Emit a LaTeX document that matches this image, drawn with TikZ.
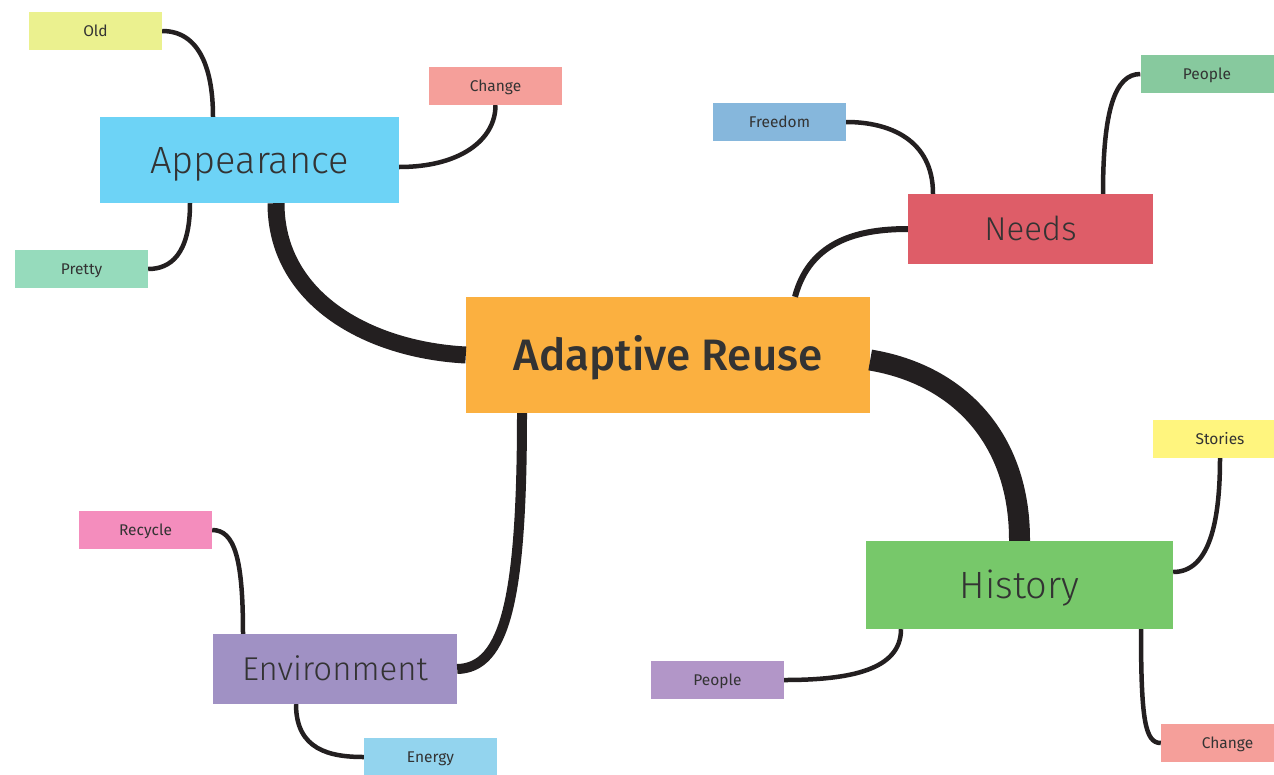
\documentclass[tikz,border=0pt]{standalone}
\usepackage{fontspec}
\setmainfont{Fira Sans}
\newfontfamily\lightfont{Fira Sans Light}
\newfontfamily\medfont{Fira Sans Medium}
\usetikzlibrary{positioning}

\definecolor{ink}{HTML}{231F20}
\definecolor{txt}{HTML}{333333}
\definecolor{cReuse}{HTML}{FBB040}
\definecolor{cAppear}{HTML}{6DD3F6}
\definecolor{cNeeds}{HTML}{DE5D68}
\definecolor{cHist}{HTML}{77C86A}
\definecolor{cEnv}{HTML}{A091C4}
\definecolor{cOld}{HTML}{EBF18F}
\definecolor{cChange}{HTML}{F59F9A}
\definecolor{cPretty}{HTML}{96DBBC}
\definecolor{cFree}{HTML}{86B7DC}
\definecolor{cPeopleA}{HTML}{87C99E}
\definecolor{cStory}{HTML}{FFF57E}
\definecolor{cPeopleB}{HTML}{B296C8}
\definecolor{cRecyc}{HTML}{F48DBD}
\definecolor{cEnergy}{HTML}{93D4EE}

\begin{document}
\begin{tikzpicture}[%
x=1pt, y=-1pt,
on grid,
topic/.style={rectangle, inner sep=0pt, text=txt, text height=26.2pt, text depth=0pt, font=\lightfont\fontsize{38}{38}\selectfont},
subtopic/.style={topic, text height=22.7pt, font=\lightfont\fontsize{33}{33}\selectfont},
leaf/.style={rectangle, inner sep=0pt, minimum width=133pt, minimum height=38pt, text=txt, text height=10.7pt, text depth=0pt, font=\fontsize{15.5}{15.5}\selectfont},
branch/.style={draw=ink, line width=#1, line cap=butt},
branch/.default=4.5pt
]

\useasboundingbox (0,0) rectangle (1274,774);

\node[topic, fill=cReuse, minimum width=404pt, minimum height=116pt, text height=30.5pt, font=\medfont\fontsize{44}{44}\selectfont] (reuse) at (668,355) {Adaptive Reuse};
\node[topic, fill=cAppear, minimum width=299pt, minimum height=86pt] (appear) [above left=195pt and 418.5pt of reuse] {Appearance};
\node[subtopic, fill=cNeeds, minimum width=245pt, minimum height=70pt] (needs) [above right=126pt and 362.5pt of reuse] {Needs};
\node[topic, fill=cHist, minimum width=307pt, minimum height=88pt] (hist) [below right=230pt and 351.5pt of reuse] {History};
\node[subtopic, fill=cEnv, minimum width=244pt, minimum height=70pt] (env) [below left=314pt and 333pt of reuse] {Environment};

\node[leaf, fill=cOld] (old) [above left=129pt and 154pt of appear] {Old};
\node[leaf, fill=cChange] (changeA) [above right=74pt and 246pt of appear] {Change};
\node[leaf, fill=cPretty] (pretty) [below left=109pt and 168pt of appear] {Pretty};
\node[leaf, fill=cFree] (free) [above left=107pt and 251pt of needs] {Freedom};
\node[leaf, fill=cPeopleA] (peopleA) [above right=155pt and 176.5pt of needs] {People};
\node[leaf, fill=cStory, minimum width=134pt] (story) [above right=146pt and 200.5pt of hist] {Stories};
\node[leaf, fill=cChange] (changeB) [below right=158pt and 208pt of hist] {Change};
\node[leaf, fill=cPeopleB] (peopleB) [below left=95pt and 302pt of hist] {People};
\node[leaf, fill=cRecyc] (recyc) [above left=139pt and 189.5pt of env] {Recycle};
\node[leaf, fill=cEnergy] (energy) [below right=88pt and 95.5pt of env] {Energy};

% main branches
\draw[branch=17pt] (reuse.west) .. controls (370,350) and (276,300) .. ([xshift=26.5pt]appear.south);
\draw[branch=21pt] ([yshift=-5pt]reuse.east) .. controls (960,375) and (1020,440) .. (hist.north);
\draw[branch=10pt] ([xshift=-146pt]reuse.south) .. controls (522,600) and (505,668) .. (env.east);
\draw[branch=6pt] ([xshift=127pt]reuse.north) .. controls (810,240) and (860,229) .. (needs.west);

% sub branches
\draw[branch] ([xshift=-36.5pt]appear.north) .. controls (213,70) and (200,31) .. (old.east);
\draw[branch] ([yshift=-7pt]appear.east) .. controls (460,167) and (495.5,140) .. (changeA.south);
\draw[branch] ([xshift=-59.5pt]appear.south) .. controls (190,255) and (170,269) .. (pretty.east);
\draw[branch] ([xshift=-97.5pt]needs.north) .. controls (933,140) and (890,122) .. (free.east);
\draw[branch] ([xshift=72.5pt]needs.north) .. controls (1103,110) and (1115,74) .. (peopleA.west);
\draw[branch] ([yshift=13pt]hist.east) .. controls (1210,572) and (1220,520) .. (story.south);
\draw[branch] ([xshift=121.5pt]hist.south) .. controls (1141,720) and (1145,743) .. (changeB.west);
\draw[branch] ([xshift=-118.5pt]hist.south) .. controls (901,670) and (850,680) .. (peopleB.east);
\draw[branch] ([xshift=-92pt]env.north) .. controls (243,560) and (235,530) .. (recyc.east);
\draw[branch] ([xshift=-39pt]env.south) .. controls (296,750) and (330,757) .. (energy.west);

\end{tikzpicture}
\end{document}
